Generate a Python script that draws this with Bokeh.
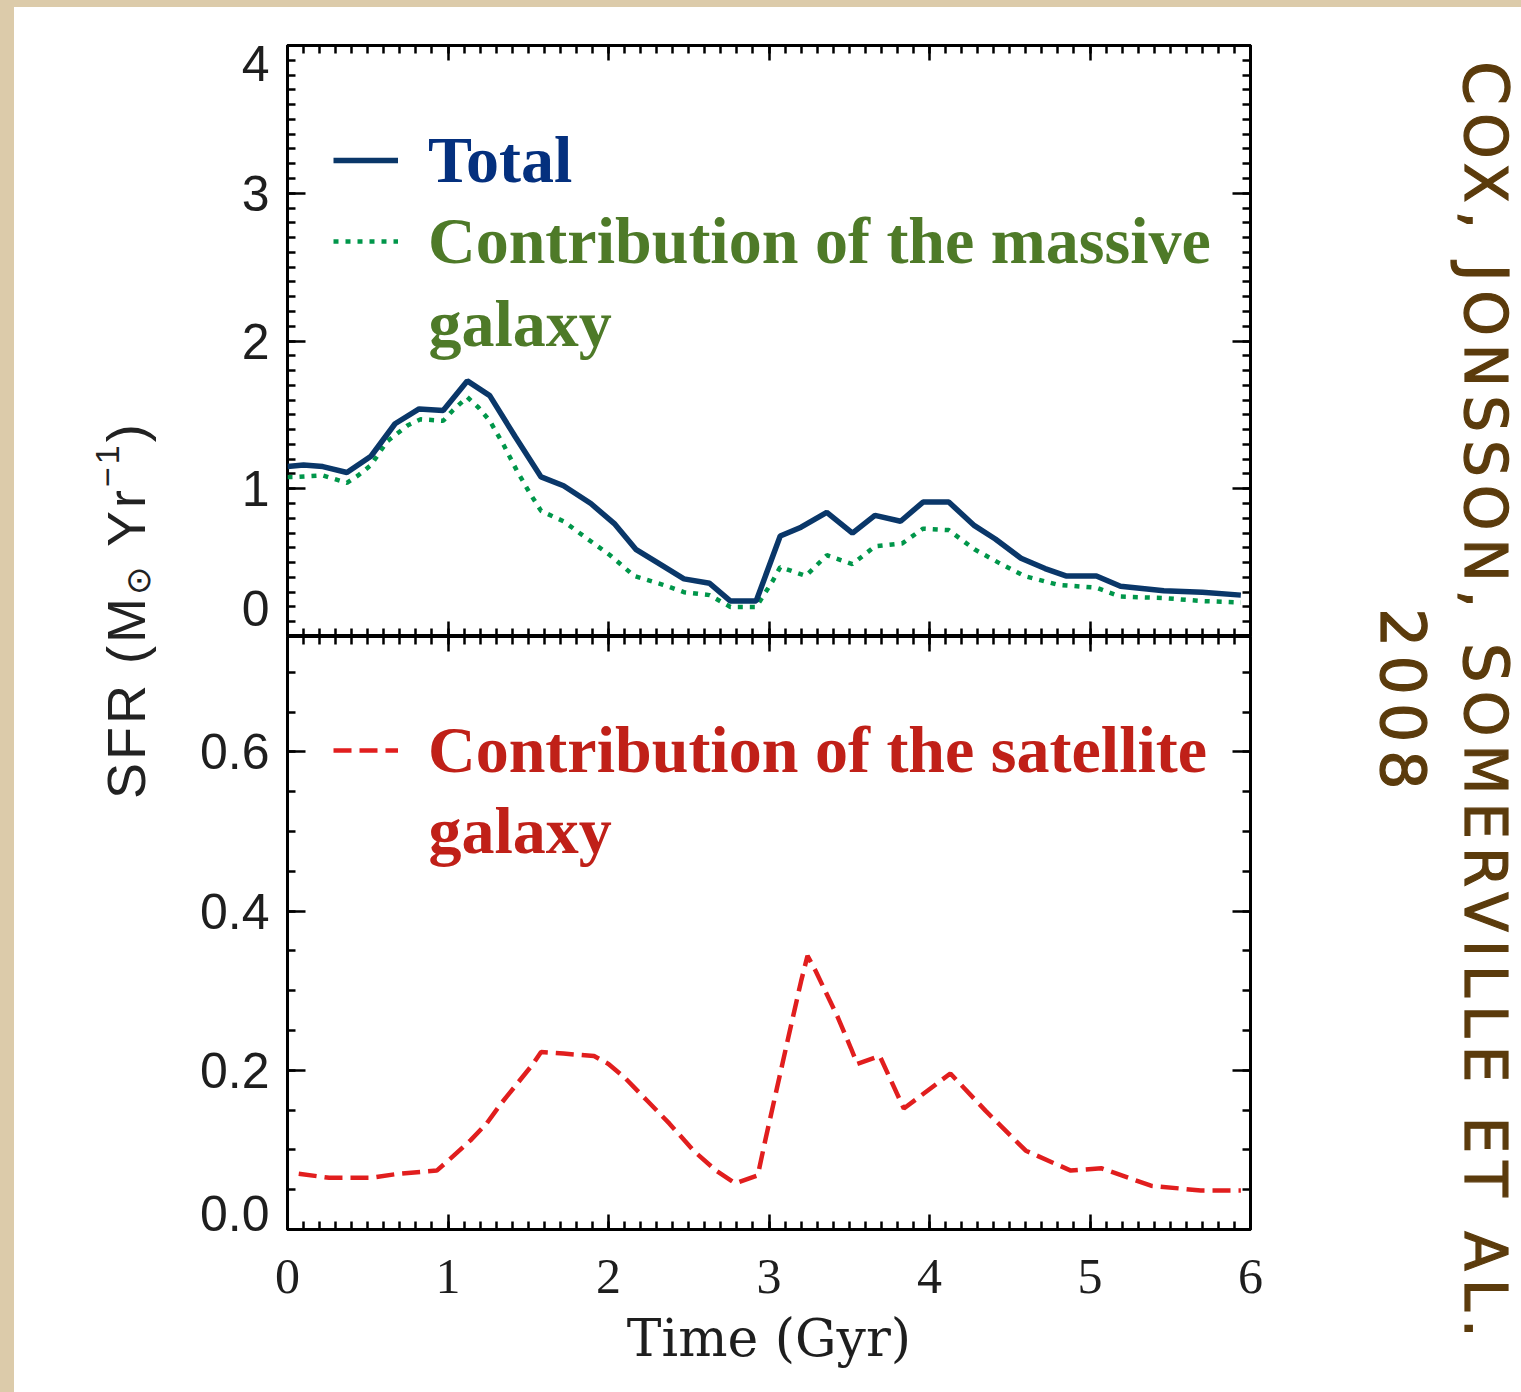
import numpy as np
from bokeh.plotting import figure
from bokeh.models import (Range1d, LinearAxis, FixedTicker, PrintfTickFormatter,
                          CustomJSTickFormatter, Legend, LegendItem, Label, Div)
from bokeh.layouts import column, row
from bokeh.embed import file_html
from bokeh.resources import INLINE

# ---------------- data ----------------
total_t = [0.00, 0.10, 0.22, 0.37, 0.52, 0.67, 0.82, 0.97, 1.12, 1.26, 1.42, 1.58, 1.72,
           1.89, 2.04, 2.17, 2.29, 2.47, 2.63, 2.76, 2.92, 3.07, 3.20, 3.36, 3.52, 3.66,
           3.82, 3.96, 4.12, 4.28, 4.41, 4.57, 4.72, 4.85, 5.04, 5.19, 5.46, 5.70, 5.94]
total_sfr = [1.15, 1.16, 1.15, 1.11, 1.22, 1.44, 1.54, 1.53, 1.73, 1.63, 1.35, 1.08, 1.02,
             0.90, 0.76, 0.59, 0.51, 0.39, 0.36, 0.24, 0.24, 0.68, 0.74, 0.84, 0.70, 0.82,
             0.78, 0.91, 0.91, 0.75, 0.66, 0.53, 0.46, 0.41, 0.41, 0.34, 0.31, 0.30, 0.28]

massive_t = [0.00, 0.06, 0.22, 0.37, 0.44, 0.52, 0.62, 0.75, 0.83, 0.97, 1.03, 1.12, 1.19,
             1.26, 1.35, 1.43, 1.51, 1.58, 1.72, 1.87, 2.01, 2.16, 2.34, 2.47, 2.63, 2.76,
             2.92, 3.02, 3.07, 3.23, 3.36, 3.52, 3.66, 3.83, 3.96, 4.12, 4.28, 4.43, 4.59,
             4.80, 5.04, 5.19, 5.46, 5.70, 5.94]
massive_sfr = [1.08, 1.08, 1.09, 1.04, 1.09, 1.16, 1.32, 1.43, 1.47, 1.46, 1.53, 1.62, 1.55,
               1.46, 1.29, 1.12, 0.97, 0.85, 0.78, 0.66, 0.55, 0.41, 0.35, 0.30, 0.28, 0.20,
               0.20, 0.37, 0.47, 0.41, 0.55, 0.49, 0.61, 0.63, 0.73, 0.72, 0.59, 0.50, 0.41,
               0.35, 0.33, 0.27, 0.26, 0.24, 0.23]

satellite_t = [0.07, 0.26, 0.52, 0.69, 0.93, 1.02, 1.14, 1.24, 1.33, 1.43, 1.53, 1.58, 1.72,
               1.91, 2.00, 2.10, 2.24, 2.38, 2.53, 2.67, 2.79, 2.93, 2.98, 3.05, 3.12, 3.20,
               3.24, 3.29, 3.43, 3.51, 3.55, 3.69, 3.84, 4.13, 4.35, 4.60, 4.88, 5.07, 5.38,
               5.69, 5.94]
satellite_sfr = [0.070, 0.065, 0.065, 0.070, 0.074, 0.090, 0.112, 0.133, 0.158, 0.183, 0.208,
                 0.223, 0.221, 0.218, 0.208, 0.191, 0.162, 0.133, 0.099, 0.074, 0.058, 0.068,
                 0.115, 0.178, 0.241, 0.312, 0.344, 0.325, 0.266, 0.228, 0.208, 0.218, 0.152,
                 0.196, 0.149, 0.099, 0.074, 0.077, 0.055, 0.049, 0.049]

x_ticks = [0, 1, 2, 3, 4, 5, 6]
y_top_ticks = [0, 1, 2, 3, 4]
y_bot_ticks = [0.0, 0.2, 0.4, 0.6]

label_total = "Total"
label_massive = "Contribution of the massive"
label_satellite = "Contribution of the satellite"
label_cont = "galaxy"
x_title = "Time (Gyr)"

# ---------------- style ----------------
BEIGE = "#dccbaa"
BLUE_L, BLUE_T = "#0a3769", "#04307e"
GREEN_L, GREEN_T = "#00964a", "#4e7a28"
RED_L, RED_T = "#e11e1e", "#c02018"
BROWN = "#5b3b0c"
TICK_TXT = "#1e1e1e"

x_minor = [round(v, 2) for v in np.arange(0, 6.001, 0.1)]
y_top_minor = [round(v, 2) for v in np.arange(0, 4.001, 0.1)]
y_bot_minor = [round(v, 3) for v in np.arange(0, 0.7501, 0.05)]

# the end tick labels sit nudged inside the panel in the reference
TOP_LOW_NUDGE, TOP_HIGH_NUDGE, BOT_LOW_NUDGE = 0.19, -0.122, 0.02


def make_fig(h, ymax, mb_top, mb_bottom):
    p = figure(width=1100, height=h, x_range=Range1d(0, 6), y_range=Range1d(0, ymax),
               output_backend="svg", toolbar_location=None,
               min_border_left=117, min_border_right=20,
               min_border_top=mb_top, min_border_bottom=mb_bottom,
               x_axis_location=None, y_axis_location=None)
    p.xgrid.visible = False
    p.ygrid.visible = False
    p.outline_line_color = "black"
    p.outline_line_width = 3
    p.background_fill_color = "white"
    p.border_fill_color = "white"
    return p


def add_axis(p, side, ticks, minor, major_len, fmt=None, font=None, size=None, standoff=0):
    ax = LinearAxis(ticker=FixedTicker(ticks=ticks, minor_ticks=minor))
    ax.major_tick_in = major_len
    ax.major_tick_out = 0
    ax.minor_tick_in = 8
    ax.minor_tick_out = 0
    ax.major_tick_line_width = 2.5
    ax.minor_tick_line_width = 2.5
    ax.major_tick_line_color = "black"
    ax.minor_tick_line_color = "black"
    ax.axis_line_color = None
    if fmt is None:
        ax.formatter = CustomJSTickFormatter(code="return ''")
        ax.major_label_text_font_size = "0px"
        ax.major_label_standoff = 0
    else:
        ax.formatter = fmt
        ax.major_label_text_font = font
        ax.major_label_text_font_size = size
        ax.major_label_text_color = TICK_TXT
        ax.major_label_standoff = standoff
    p.add_layout(ax, side)
    return ax


def add_label_axis(p, positions, texts):
    # labels only (tick marks drawn by the tick axis)
    ax = LinearAxis(ticker=FixedTicker(ticks=positions, minor_ticks=[]))
    ax.major_tick_in = 0
    ax.major_tick_out = 0
    ax.major_tick_line_color = None
    ax.minor_tick_line_color = None
    ax.axis_line_color = None
    ax.major_label_overrides = {pos: t for pos, t in zip(positions, texts)}
    ax.major_label_text_font = "Liberation Sans"
    ax.major_label_text_font_size = "50px"
    ax.major_label_text_color = TICK_TXT
    ax.major_label_standoff = 18
    p.add_layout(ax, "left")
    return ax


def make_legend(label, r, color, loc):
    return Legend(items=[LegendItem(label=label, renderers=[r])], location=loc,
                  orientation="vertical", padding=0, margin=0, spacing=0,
                  glyph_width=65, glyph_height=84, label_height=84, label_standoff=30,
                  border_line_alpha=0, background_fill_alpha=0,
                  label_text_font="Liberation Serif", label_text_font_style="bold",
                  label_text_font_size="66px", label_text_color=color)


# ---------------- top panel ----------------
top = make_fig(629, 4, 38, 0)
add_axis(top, "left", y_top_ticks, y_top_minor, 18)
top_pos = [y_top_ticks[0] + TOP_LOW_NUDGE] + y_top_ticks[1:-1] + [y_top_ticks[-1] + TOP_HIGH_NUDGE]
add_label_axis(top, top_pos, ["%d" % v for v in y_top_ticks])
add_axis(top, "right", y_top_ticks, y_top_minor, 18)
add_axis(top, "above", x_ticks, x_minor, 15)
add_axis(top, "below", x_ticks, x_minor, 15)

r_mass = top.line(massive_t, massive_sfr, line_color=GREEN_L, line_width=4.5, line_dash="5 7")
r_tot = top.line(total_t, total_sfr, line_color=BLUE_L, line_width=5.5)

top.add_layout(make_legend(label_total, r_tot, BLUE_T, (46, 434)))
top.add_layout(make_legend(label_massive, r_mass, GREEN_T, (46, 353)))
top.add_layout(Label(x=0.8785, y=2.12, text=label_cont, text_font="Liberation Serif",
                     text_font_style="bold", text_font_size="66px", text_color=GREEN_T,
                     text_baseline="alphabetic"))

# ---------------- bottom panel ----------------
bot = make_fig(756, 0.745, 0, 163)
add_axis(bot, "left", y_bot_ticks, y_bot_minor, 18)
bot_pos = [y_bot_ticks[0] + BOT_LOW_NUDGE] + y_bot_ticks[1:]
add_label_axis(bot, bot_pos, ["%.1f" % v for v in y_bot_ticks])
add_axis(bot, "right", y_bot_ticks, y_bot_minor, 18)
add_axis(bot, "above", x_ticks, x_minor, 15)
xb = add_axis(bot, "below", x_ticks, x_minor, 15, PrintfTickFormatter(format="%d"),
              "Liberation Serif", "50px", 30)
xb.axis_label = x_title
xb.axis_label_text_font = "DejaVu Serif"
xb.axis_label_text_font_style = "normal"
xb.axis_label_text_font_size = "52px"
xb.axis_label_text_color = TICK_TXT
xb.axis_label_standoff = 12

r_sat = bot.line(satellite_t, satellite_sfr, line_color=RED_L, line_width=4.5, line_dash="18 8")
bot.add_layout(make_legend(label_satellite, r_sat, RED_T, (46, 437)))
bot.add_layout(Label(x=0.8785, y=0.501, text=label_cont, text_font="Liberation Serif",
                     text_font_style="bold", text_font_size="66px", text_color=RED_T,
                     text_baseline="alphabetic"))

# ---------------- side texts ----------------
ylab_html = (
    '<div style="writing-mode:vertical-rl; transform:rotate(180deg); height:1385px; '
    'width:156px; box-sizing:border-box; padding-top:179px; padding-right:63px; '
    'text-align:center; font-family:\'Liberation Sans\'; font-size:54px; line-height:60px; '
    'letter-spacing:3px; color:#222; white-space:nowrap;">'
    'SFR (M<sub style="font-size:34px">&#8857;</sub> Yr<sup style="font-size:34px">&#8722;1</sup>)'
    '</div>'
)
ylab = Div(text=ylab_html, width=156, height=1385, margin=(0, 0, 0, 0),
           styles={"background-color": "white"})

cite_html = (
    '<div style="writing-mode:vertical-rl; height:1385px; width:251px; box-sizing:border-box; '
    'padding-top:7px; text-align:center; color:' + BROWN + '; font-family:\'DejaVu Sans\'; '
    '-webkit-text-stroke:1.2px ' + BROWN + '; '
    'text-transform:uppercase; letter-spacing:8px; white-space:nowrap;">'
    '<div style="line-height:72px;"><span style="font-size:63px">C</span>'
    '<span style="font-size:58px">ox, </span><span style="font-size:63px">J</span>'
    '<span style="font-size:58px">onsson, </span><span style="font-size:63px">S</span>'
    '<span style="font-size:58px">omerville et al.</span></div>'
    '<div style="line-height:72px; margin-block-start:11px; font-size:62px;">2008</div>'
    '</div>'
)
side = Div(text=cite_html, width=251, height=1385, margin=(0, 0, 0, 0),
           styles={"background-color": "white"})

top_band = Div(text="", width=1521, height=7, margin=(0, 0, 0, 0),
               styles={"background-color": BEIGE})
left_band = Div(text="", width=14, height=1385, margin=(0, 0, 0, 0),
                styles={"background-color": BEIGE})

layout = column(top_band, row(left_band, ylab, column(top, bot, spacing=0), side, spacing=0),
                spacing=0)

open("out.html", "w").write(file_html(layout, INLINE))
